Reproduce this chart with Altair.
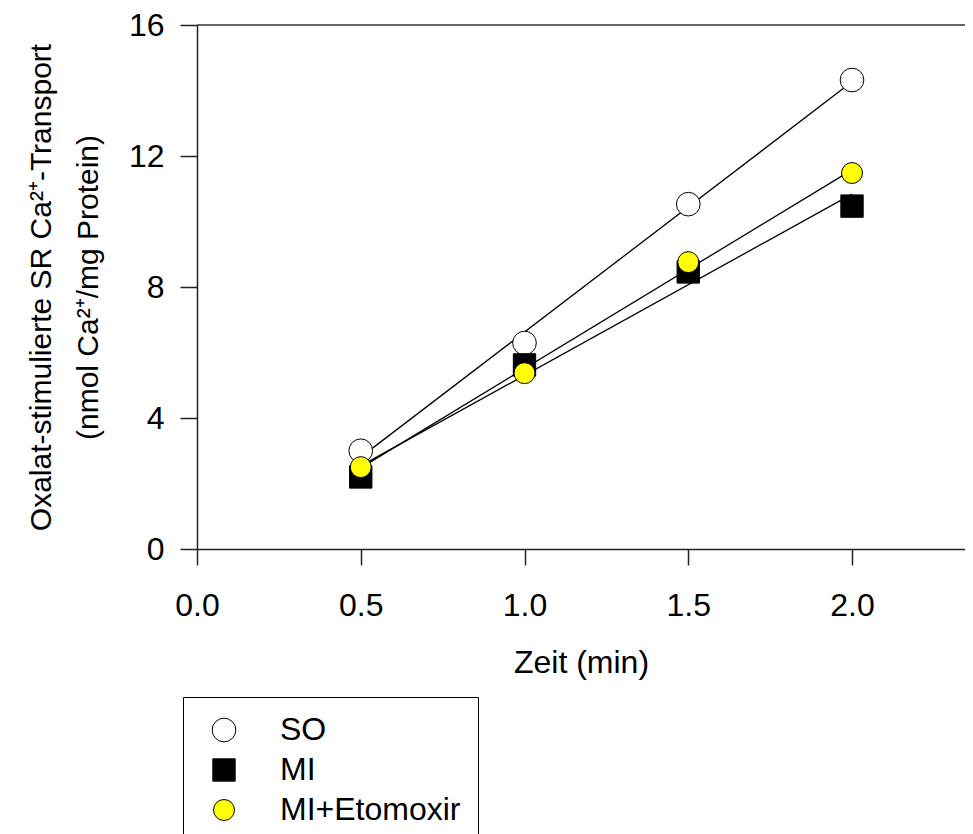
import altair as alt
import pandas as pd

# ---- data ----
time_min = [0.5, 1.0, 1.5, 2.0]
so_values = [3.0, 6.29, 10.53, 14.32]
mi_values = [2.2, 5.62, 8.46, 10.47]
mi_eto_values = [2.5, 5.37, 8.76, 11.48]
series_names = ["SO", "MI", "MI+Etomoxir"]
x_ticks = [0.0, 0.5, 1.0, 1.5, 2.0]
y_ticks = [0, 4, 8, 12, 16]

rows = []
for name, vals in zip(series_names, [so_values, mi_values, mi_eto_values]):
    for t, v in zip(time_min, vals):
        rows.append({"Zeit": t, "Wert": v, "Gruppe": name})
df = pd.DataFrame(rows)

FONT = "Liberation Sans"
FS = 32

x_scale = alt.Scale(domain=[0, 2.345], nice=False, zero=False)
y_scale = alt.Scale(domain=[0, 16], nice=False)

x_axis = alt.Axis(values=x_ticks, format=".1f", title="Zeit (min)", labelFlush=False,
                  tickSize=16, labelPadding=25, titlePadding=26)
y_axis = alt.Axis(values=y_ticks, format="d", labelFlush=False,
                  title=["Oxalat-stimulierte SR Ca²⁺-Transport", "(nmol Ca²⁺/mg Protein)"],
                  titleFontSize=30,
                  tickSize=17, labelPadding=16, titlePadding=25, titleLineHeight=47)

legend = alt.Legend(
    orient="none", legendX=-14, legendY=672, title=None,
    labelFont=FONT, labelFontSize=FS, labelColor="black", labelLimit=400,
    symbolStrokeColor="black", symbolStrokeWidth=1,
    strokeColor="black", fillColor="white", padding=17,
    rowPadding=8, symbolOffset=8, labelOffset=40,
)

points = alt.Chart(df).mark_point(filled=True, strokeWidth=1, opacity=1).encode(
    x=alt.X("Zeit:Q", scale=x_scale, axis=x_axis),
    y=alt.Y("Wert:Q", scale=y_scale, axis=y_axis),
    fill=alt.Fill("Gruppe:N", scale=alt.Scale(domain=series_names, range=["white", "black", "#ffff00"]), legend=legend),
    stroke=alt.Stroke("Gruppe:N", scale=alt.Scale(domain=series_names, range=["black", "black", "black"]), legend=legend),
    shape=alt.Shape("Gruppe:N", scale=alt.Scale(domain=series_names, range=["circle", "square", "circle"]), legend=legend),
    size=alt.Size("Gruppe:N", scale=alt.Scale(domain=series_names, range=[560, 440, 560]), legend=legend),
)

lines = alt.Chart(df).transform_regression(
    "Zeit", "Wert", groupby=["Gruppe"]
).mark_line(color="black", strokeWidth=1.3).encode(
    x=alt.X("Zeit:Q", scale=x_scale, axis=x_axis),
    y=alt.Y("Wert:Q", scale=y_scale, axis=y_axis),
    detail="Gruppe:N",
)

top_line = alt.Chart(pd.DataFrame({"Wert": [y_ticks[-1]]})).mark_rule(color="#333", strokeWidth=1.5).encode(
    y=alt.Y("Wert:Q", scale=y_scale, axis=y_axis)
)

chart = alt.layer(top_line, lines, points).properties(
    width=768, height=524,
    autosize=alt.AutoSizeParams(type="none"),
    padding={"left": 189, "top": 17, "right": 0, "bottom": 285},
).configure_view(stroke=None).configure_axis(
    labelFont=FONT, titleFont=FONT, labelFontSize=FS, titleFontSize=FS,
    labelColor="black", titleColor="black", titleFontWeight="normal",
    domainColor="#222", tickColor="#222", domainWidth=1.5, tickWidth=1.5, grid=False,
)

chart.save("out.html", embed_options={"renderer": "svg", "actions": False})
